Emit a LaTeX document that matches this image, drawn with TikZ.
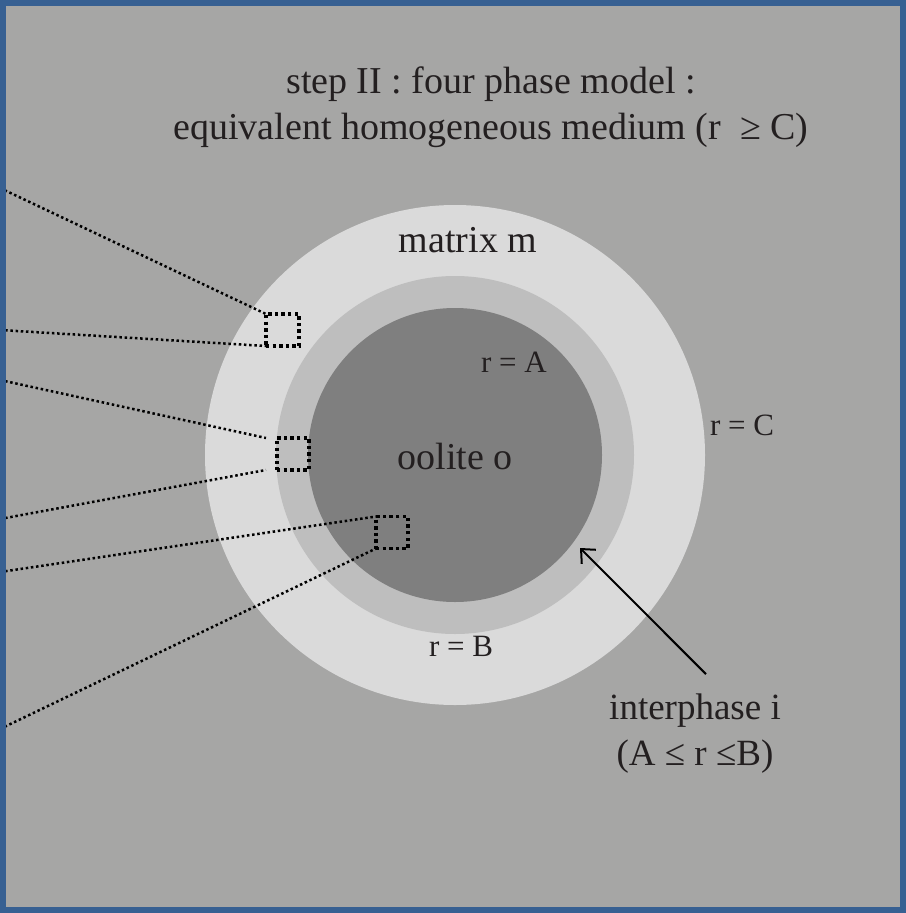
\documentclass[tikz,border=0pt]{standalone}
\usepackage{fontspec}
\setmainfont{Liberation Serif}
\usepackage{xcolor}
\usepackage{tikz}
\usetikzlibrary{positioning,arrows.meta}

\definecolor{bggray}{HTML}{A6A6A5}
\definecolor{matrixgray}{HTML}{DADADA}
\definecolor{intergray}{HTML}{BEBEBE}
\definecolor{oolitegray}{HTML}{7F7F7F}
\definecolor{frameblue}{HTML}{376092}
\definecolor{inkdark}{HTML}{231F20}

\begin{document}
\begin{tikzpicture}[x=1pt, y=-1pt,
  big/.style={font=\fontsize{38}{46}\selectfont, text=inkdark, inner sep=0pt, anchor=base},
  small/.style={font=\fontsize{31}{34}\selectfont, text=inkdark, inner sep=0pt, anchor=base},
  disc/.style={circle, inner sep=0pt, outer sep=0pt, draw=none},
  zoombox/.style={draw=black, line width=3.4pt, dash pattern=on 3.4pt off 3.2pt,
    inner sep=0pt, outer sep=0pt, minimum size=32pt},
  lead/.style={draw=black, line width=2.5pt, dash pattern=on 2.5pt off 2.7pt},
  pointer/.style={draw=black, line width=2pt, -{Straight Barb[length=11pt, width=20pt]}}]
\useasboundingbox (0,0) rectangle (905,913);
\fill[bggray] (0,0) rectangle (905,913);

% the three phases around the oolite
\node[disc, fill=matrixgray, minimum size=500pt] (matrix) at (455,455) {};
\node[disc, fill=intergray, minimum size=358pt] (inter) at (455,455) {};
\node[disc, fill=oolitegray, minimum size=294pt] (oolite) at (455,455) {};

% texts
\node[big, align=center] (title) at (491,139)
  {step II : four phase model :\\ equivalent homogeneous medium (r\ \ ≥ C)};
\node[big] (mlab) at (468,252) {matrix m};
\node[big] (olab) at (455,469) {oolite o};
\node[small] (ra) at (514,372) {r = A};
\node[small] (rb) at (461,656) {r = B};
\node[small] (rc) at (742,435) {r = C};
\node[big, font=\fontsize{37}{44}\selectfont] (ilab) at (695,719) {interphase i};
\node[big, font=\fontsize{37}{44}\selectfont] (irange) at (695,765) {(A ≤ r ≤B)};

% zoom windows
\node[zoombox, minimum width=33pt] (sqm) at (282.5,330) {};
\node[zoombox] (sqi) at (293,454) {};
\node[zoombox] (sqo) at (392,532.5) {};

% leader lines to the left frame
\coordinate (l1) at (0,188);
\coordinate (l2) at (0,330);
\coordinate (l3) at (0,380);
\coordinate (l4) at (0,519);
\coordinate (l5) at (0,572);
\coordinate (l6) at (0,729);
\draw[lead] (l1) -- (sqm.north west);
\draw[lead] (l2) -- (sqm.south west);
\draw[lead] (l3) -- ([xshift=-11pt]sqi.north west);
\draw[lead] (l4) -- ([xshift=-11pt]sqi.south west);
\draw[lead] (l5) -- (sqo.north west);
\draw[lead] (l6) -- (sqo.south west);

% arrow to the interphase
\coordinate (itip) at (580,548);
\draw[pointer] ([xshift=11pt, yshift=19pt]ilab.north) -- (itip);

\draw[frameblue, line width=6pt] (3,3) rectangle (903,910);
\end{tikzpicture}
\end{document}
